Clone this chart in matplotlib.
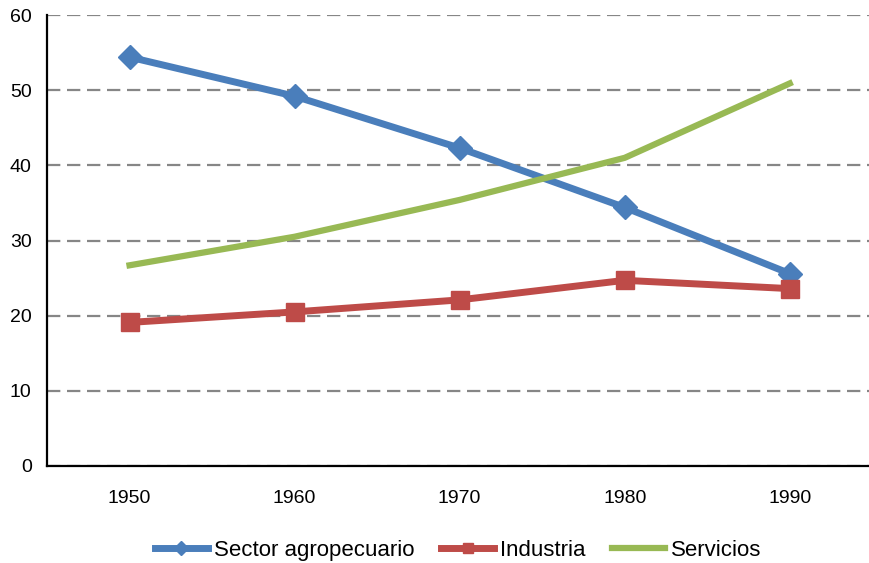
import matplotlib
matplotlib.use('Agg')
import matplotlib.pyplot as plt

plt.rcParams['font.family'] = ['Liberation Sans Narrow', 'Liberation Sans', 'DejaVu Sans']

years = ['1950', '1960', '1970', '1980', '1990']
agro = [54.4, 49.2, 42.3, 34.4, 25.6]
industria = [19.1, 20.5, 22.1, 24.7, 23.6]
servicios = [26.7, 30.5, 35.4, 41.0, 50.9]

fig = plt.figure(figsize=(8.69, 5.63), dpi=100)
ax = fig.add_axes([47 / 869, 1 - 466 / 563, 1 - 47 / 869, (466 - 15) / 563])

x = list(range(len(years)))
ax.plot(x, agro, color='#4A7EBB', lw=5, marker='D', ms=12, label='Sector agropecuario')
ax.plot(x, industria, color='#BE4B48', lw=5, marker='s', ms=13, label='Industria')
ax.plot(x, servicios, color='#98B954', lw=4.5, label='Servicios')

ax.set_ylim(0, 60)
ax.set_xlim(-0.5, 4.48)
ax.set_yticks(range(0, 61, 10))
ax.set_xticks(x)
ax.set_xticklabels(years)
ax.yaxis.grid(True, color='#868686', lw=1.6, ls=(0, (6, 3)))
ax.set_axisbelow(True)
for s in ['top', 'right']:
    ax.spines[s].set_visible(False)
for s in ['left', 'bottom']:
    ax.spines[s].set_linewidth(1.6)
ax.tick_params(axis='both', length=0, labelsize=14)
ax.tick_params(axis='x', pad=17)
ax.tick_params(axis='y', pad=11)

leg = ax.legend(loc='lower center', bbox_to_anchor=(0.5, -0.255), ncol=3, frameon=False,
                fontsize=16, handlelength=2.4, columnspacing=1.2, handletextpad=0.25,
                markerscale=0.6)

fig.savefig('out.png', dpi=100)
